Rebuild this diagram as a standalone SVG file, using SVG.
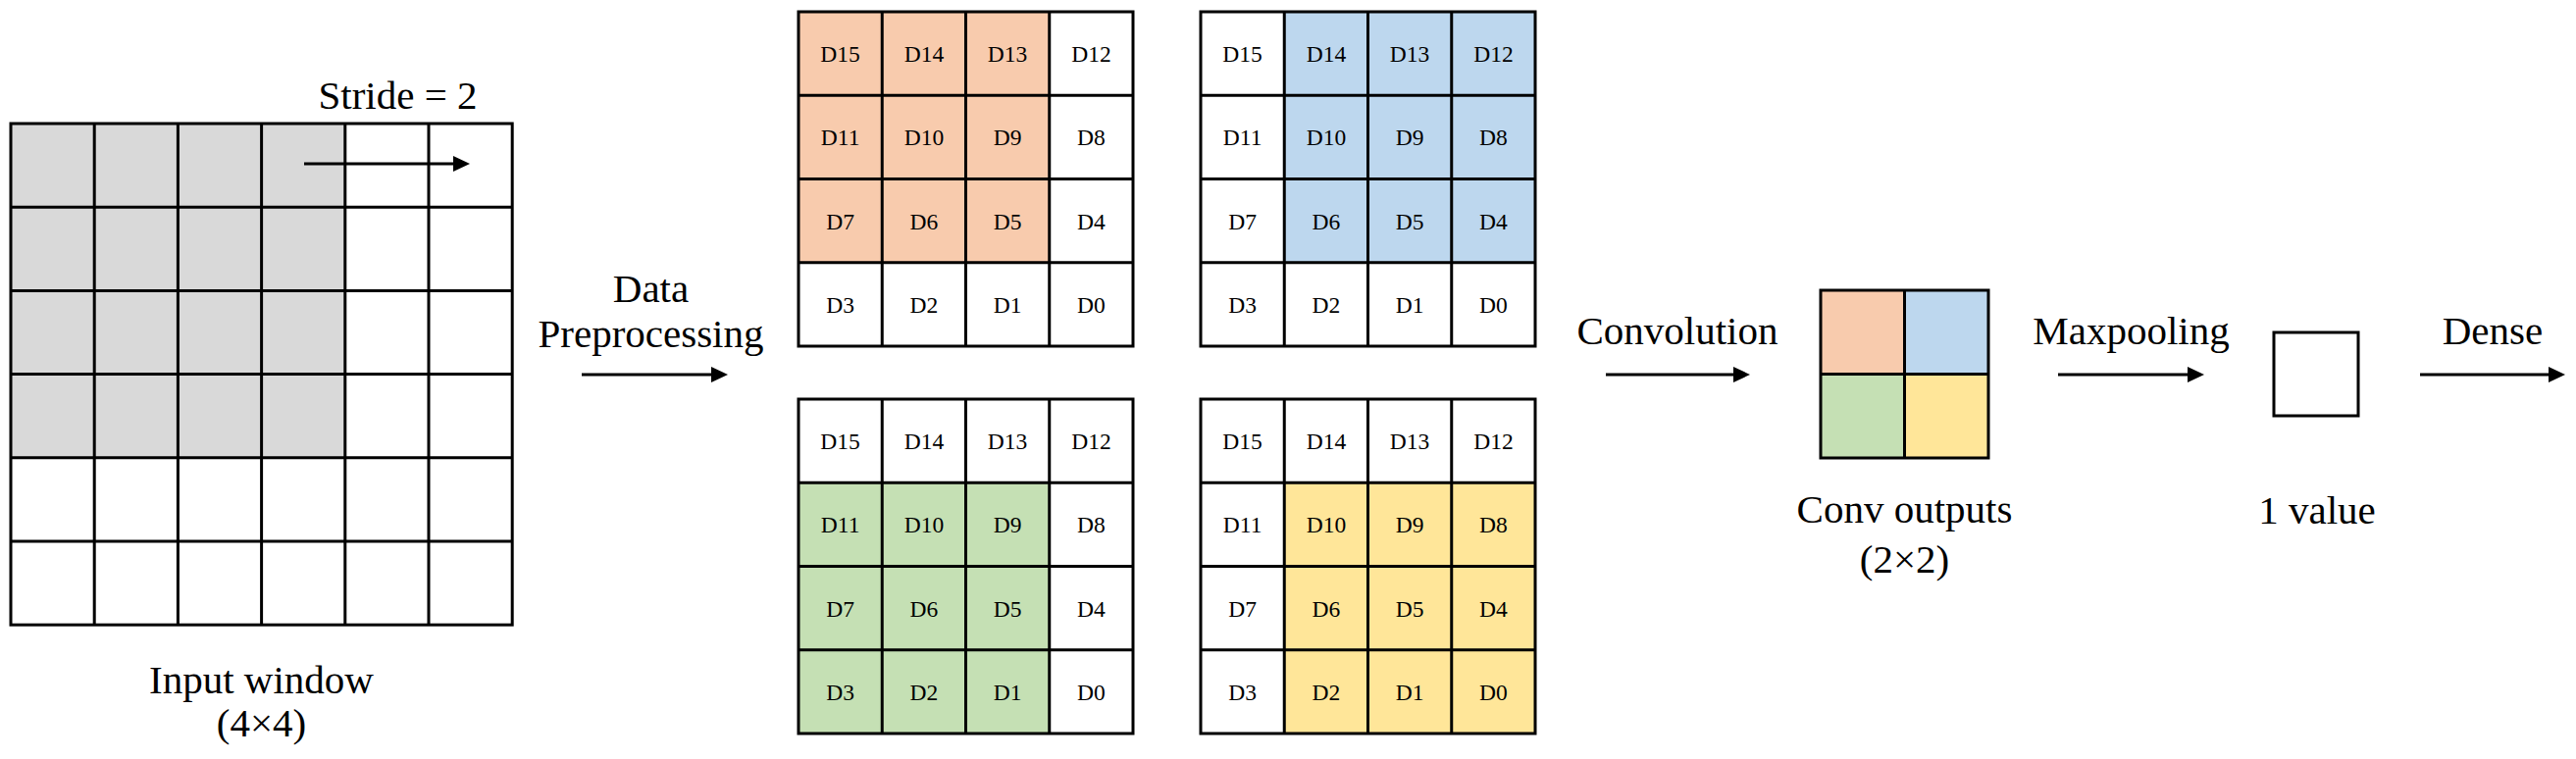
<svg xmlns="http://www.w3.org/2000/svg" width="2626" height="774" viewBox="0 0 2626 774">
<style>
text{font-family:"Liberation Serif","Times New Roman",serif;fill:#000}
.lbl{font-size:41px;text-anchor:middle}
.t{font-size:23.5px;text-anchor:middle}
.ln{fill:none;stroke:#000;stroke-width:3}
.conn{stroke:#000;stroke-width:3;fill:none}
.o{fill:#f8cbad}.b{fill:#bdd7ee}.g{fill:#c5e0b4}.y{fill:#ffe699}.gr{fill:#d9d9d9}.w{fill:#fff}
</style>
<defs>
<marker id="ah" markerUnits="userSpaceOnUse" viewBox="0 0 17 16" markerWidth="17" markerHeight="16" refX="5" refY="8" orient="auto">
<path d="M0,0 L17,8 L0,16 z" fill="#000"/>
</marker>
</defs>
<rect width="2626" height="774" fill="#fff"/>

<g id="input-window">
<rect class="gr" x="11" y="126" width="340.8" height="340.8"/>
<rect class="ln" x="11" y="126" width="511.2" height="511.2"/>
<path class="ln" d="M96.2,126V637.2M181.4,126V637.2M266.6,126V637.2M351.8,126V637.2M437,126V637.2M11,211.2H522.2M11,296.4H522.2M11,381.6H522.2M11,466.8H522.2M11,552H522.2"/>
<text class="lbl" x="405.5" y="111">Stride = 2</text>
<text class="lbl" x="266.5" y="707">Input window</text>
<text class="lbl" x="266.5" y="751">(4×4)</text>
</g>

<g id="grid-orange">
<rect class="o" x="814" y="12" width="255.75" height="255.75"/>
<rect class="ln" x="814" y="12" width="341" height="341"/>
<path class="ln" d="M899.25,12V353M984.5,12V353M1069.75,12V353M814,97.25H1155M814,182.5H1155M814,267.75H1155"/>
<text class="t" x="856.6" y="63.1">D15</text><text class="t" x="941.9" y="63.1">D14</text><text class="t" x="1027.1" y="63.1">D13</text><text class="t" x="1112.4" y="63.1">D12</text>
<text class="t" x="856.6" y="148.4">D11</text><text class="t" x="941.9" y="148.4">D10</text><text class="t" x="1027.1" y="148.4">D9</text><text class="t" x="1112.4" y="148.4">D8</text>
<text class="t" x="856.6" y="233.6">D7</text><text class="t" x="941.9" y="233.6">D6</text><text class="t" x="1027.1" y="233.6">D5</text><text class="t" x="1112.4" y="233.6">D4</text>
<text class="t" x="856.6" y="318.9">D3</text><text class="t" x="941.9" y="318.9">D2</text><text class="t" x="1027.1" y="318.9">D1</text><text class="t" x="1112.4" y="318.9">D0</text>
</g>

<g id="grid-blue">
<rect class="b" x="1309.25" y="12" width="255.75" height="255.75"/>
<rect class="ln" x="1224" y="12" width="341" height="341"/>
<path class="ln" d="M1309.25,12V353M1394.5,12V353M1479.75,12V353M1224,97.25H1565M1224,182.5H1565M1224,267.75H1565"/>
<text class="t" x="1266.6" y="63.1">D15</text><text class="t" x="1351.9" y="63.1">D14</text><text class="t" x="1437.1" y="63.1">D13</text><text class="t" x="1522.4" y="63.1">D12</text>
<text class="t" x="1266.6" y="148.4">D11</text><text class="t" x="1351.9" y="148.4">D10</text><text class="t" x="1437.1" y="148.4">D9</text><text class="t" x="1522.4" y="148.4">D8</text>
<text class="t" x="1266.6" y="233.6">D7</text><text class="t" x="1351.9" y="233.6">D6</text><text class="t" x="1437.1" y="233.6">D5</text><text class="t" x="1522.4" y="233.6">D4</text>
<text class="t" x="1266.6" y="318.9">D3</text><text class="t" x="1351.9" y="318.9">D2</text><text class="t" x="1437.1" y="318.9">D1</text><text class="t" x="1522.4" y="318.9">D0</text>
</g>

<g id="grid-green">
<rect class="g" x="814" y="492.25" width="255.75" height="255.75"/>
<rect class="ln" x="814" y="407" width="341" height="341"/>
<path class="ln" d="M899.25,407V748M984.5,407V748M1069.75,407V748M814,492.25H1155M814,577.5H1155M814,662.75H1155"/>
<text class="t" x="856.6" y="458.1">D15</text><text class="t" x="941.9" y="458.1">D14</text><text class="t" x="1027.1" y="458.1">D13</text><text class="t" x="1112.4" y="458.1">D12</text>
<text class="t" x="856.6" y="543.4">D11</text><text class="t" x="941.9" y="543.4">D10</text><text class="t" x="1027.1" y="543.4">D9</text><text class="t" x="1112.4" y="543.4">D8</text>
<text class="t" x="856.6" y="628.6">D7</text><text class="t" x="941.9" y="628.6">D6</text><text class="t" x="1027.1" y="628.6">D5</text><text class="t" x="1112.4" y="628.6">D4</text>
<text class="t" x="856.6" y="713.9">D3</text><text class="t" x="941.9" y="713.9">D2</text><text class="t" x="1027.1" y="713.9">D1</text><text class="t" x="1112.4" y="713.9">D0</text>
</g>

<g id="grid-yellow">
<rect class="y" x="1309.25" y="492.25" width="255.75" height="255.75"/>
<rect class="ln" x="1224" y="407" width="341" height="341"/>
<path class="ln" d="M1309.25,407V748M1394.5,407V748M1479.75,407V748M1224,492.25H1565M1224,577.5H1565M1224,662.75H1565"/>
<text class="t" x="1266.6" y="458.1">D15</text><text class="t" x="1351.9" y="458.1">D14</text><text class="t" x="1437.1" y="458.1">D13</text><text class="t" x="1522.4" y="458.1">D12</text>
<text class="t" x="1266.6" y="543.4">D11</text><text class="t" x="1351.9" y="543.4">D10</text><text class="t" x="1437.1" y="543.4">D9</text><text class="t" x="1522.4" y="543.4">D8</text>
<text class="t" x="1266.6" y="628.6">D7</text><text class="t" x="1351.9" y="628.6">D6</text><text class="t" x="1437.1" y="628.6">D5</text><text class="t" x="1522.4" y="628.6">D4</text>
<text class="t" x="1266.6" y="713.9">D3</text><text class="t" x="1351.9" y="713.9">D2</text><text class="t" x="1437.1" y="713.9">D1</text><text class="t" x="1522.4" y="713.9">D0</text>
</g>

<g id="conv-outputs">
<rect class="o" x="1856" y="296" width="85.5" height="85.5"/>
<rect class="b" x="1941.5" y="296" width="85.5" height="85.5"/>
<rect class="g" x="1856" y="381.5" width="85.5" height="85.5"/>
<rect class="y" x="1941.5" y="381.5" width="85.5" height="85.5"/>
<rect class="ln" x="1856" y="296" width="171" height="171"/>
<path class="ln" d="M1941.5,296V467M1856,381.5H2027"/>
<text class="lbl" x="1941.5" y="533">Conv outputs</text>
<text class="lbl" x="1941.5" y="584">(2×2)</text>
</g>

<g id="one-value">
<rect class="ln" x="2318" y="339" width="86" height="85"/>
<text class="lbl" x="2362" y="534">1 value</text>
</g>

<g id="connectors">
<line class="conn" x1="310" y1="167" x2="467" y2="167" marker-end="url(#ah)"/>
<line class="conn" x1="593" y1="382" x2="730" y2="382" marker-end="url(#ah)"/>
<line class="conn" x1="1637" y1="382" x2="1772" y2="382" marker-end="url(#ah)"/>
<line class="conn" x1="2098" y1="382" x2="2235" y2="382" marker-end="url(#ah)"/>
<line class="conn" x1="2467" y1="382" x2="2603" y2="382" marker-end="url(#ah)"/>
<text class="lbl" x="663.5" y="308">Data</text>
<text class="lbl" x="663.5" y="354">Preprocessing</text>
<text class="lbl" x="1710" y="351">Convolution</text>
<text class="lbl" x="2172.5" y="351">Maxpooling</text>
<text class="lbl" x="2541" y="351">Dense</text>
</g>
</svg>
